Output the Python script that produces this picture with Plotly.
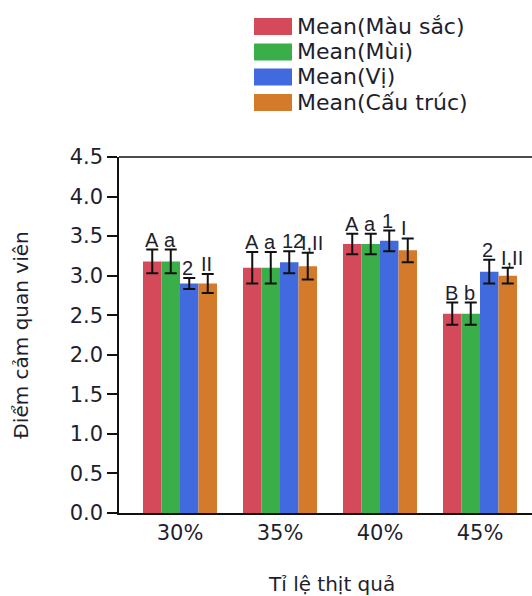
import plotly.graph_objects as go

categories = ["30%", "35%", "40%", "45%"]
series_names = ["Mean(Màu sắc)", "Mean(Mùi)", "Mean(Vị)", "Mean(Cấu trúc)"]
mau_sac = [3.18, 3.10, 3.40, 2.52]
mui = [3.18, 3.10, 3.40, 2.52]
vi = [2.90, 3.17, 3.44, 3.05]
cau_truc = [2.90, 3.12, 3.32, 3.00]
err_mau_sac = [0.15, 0.20, 0.13, 0.14]
err_mui = [0.15, 0.20, 0.13, 0.14]
err_vi = [0.07, 0.14, 0.13, 0.15]
err_cau_truc = [0.12, 0.17, 0.15, 0.10]
labels_mau_sac = ["A", "A", "A", "B"]
labels_mui = ["a", "a", "a", "b"]
labels_vi = ["2", "12", "1", "2"]
labels_cau_truc = ["II", "I,II", "I", "I,II"]
y_ticks = [0.0, 0.5, 1.0, 1.5, 2.0, 2.5, 3.0, 3.5, 4.0, 4.5]
colors = ["#d44a5b", "#3aae48", "#416ade", "#d37b2b"]

values = [mau_sac, mui, vi, cau_truc]
errors = [err_mau_sac, err_mui, err_vi, err_cau_truc]
labels = [labels_mau_sac, labels_mui, labels_vi, labels_cau_truc]

W, H = 532, 596
L, R, T, B = 119, 532, 157, 513
TXT = "#1e1e2e"
UNIT = 100.0  # px per category
x_lo = -0.61
x_hi = x_lo + (R - L) / UNIT

fig = go.Figure()
for name, vals, errs, col in zip(series_names, values, errors, colors):
    fig.add_trace(go.Bar(
        x=categories, y=vals, name=name, marker_color=col,
        marker_line_width=0,
        error_y=dict(type="data", array=errs, visible=True, color="#111111",
                     thickness=2, width=6),
    ))

bargap = 0.26
n = len(series_names)
bw = (1 - bargap) / n
annotations = []
for s in range(n):
    left = -(1 - bargap) / 2 + bw * s
    for i, cat in enumerate(categories):
        annotations.append(dict(
            x=i + left, y=values[s][i] + errors[s][i], xref="x", yref="y",
            text=labels[s][i], showarrow=False, yanchor="bottom", xanchor="left",
            font=dict(family="Liberation Sans", size=20, color=TXT),
            yshift=-3, xshift=0,
        ))

def px(xs):
    return (xs - L) / (R - L)

def py(ys):
    return (B - ys) / (B - T)

# top frame line of the plot area
shapes = [dict(type="line", xref="paper", yref="paper", x0=0, x1=1.02, y0=1, y1=1,
               line=dict(color="#111111", width=1.5))]
row_centers = [26.5, 52, 77, 102.5]
for name, col, yc in zip(series_names, colors, row_centers):
    shapes.append(dict(type="rect", xref="paper", yref="paper",
                       x0=px(254), x1=px(292), y0=py(yc + 8.5), y1=py(yc - 8.5),
                       fillcolor=col, line=dict(width=0)))
    annotations.append(dict(x=px(295), y=py(yc), xref="paper", yref="paper",
                            text=name, showarrow=False, xanchor="left", yanchor="middle",
                            font=dict(family="DejaVu Sans", size=22, color=TXT)))

annotations.append(dict(x=px(331), y=py(584), xref="paper", yref="paper",
                        text="Tỉ lệ thịt quả", showarrow=False,
                        xanchor="center", yanchor="middle",
                        font=dict(family="DejaVu Sans", size=20, color=TXT)))

fig.update_layout(
    width=W, height=H,
    margin=dict(l=L, r=W - R, t=T, b=H - B, pad=0),
    paper_bgcolor="white", plot_bgcolor="white",
    barmode="group", bargap=bargap, bargroupgap=0,
    showlegend=False,
    annotations=annotations, shapes=shapes,
    xaxis=dict(range=[x_lo, x_hi], showline=True, linecolor="#111111", linewidth=1.5,
               mirror=False, ticks="", showgrid=False, zeroline=False,
               tickfont=dict(family="DejaVu Sans", size=21, color=TXT)),
    yaxis=dict(range=[0, 4.5], tickvals=y_ticks,
               ticktext=[f"{v:.1f}" for v in y_ticks],
               showline=True, linecolor="#111111", linewidth=1.5, mirror=False,
               ticks="outside", ticklen=10, tickwidth=1.5, tickcolor="#111111",
               showgrid=False, zeroline=False,
               tickfont=dict(family="DejaVu Sans", size=21, color=TXT),
               title=dict(text="Điểm cảm quan viên", standoff=36,
                          font=dict(family="DejaVu Sans", size=20, color=TXT))),
)

fig.write_html(
    "out.html",
    config={"displayModeBar": False},
    post_script="document.body.style.margin='0';document.body.style.overflow='hidden';",
)
